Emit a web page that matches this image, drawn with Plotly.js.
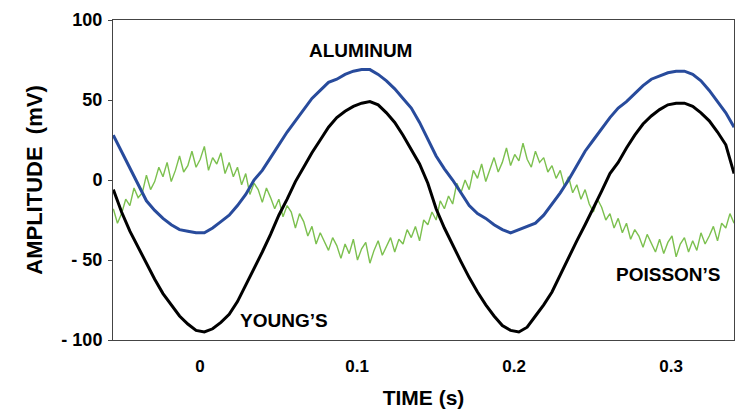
<!DOCTYPE html>
<html>
<head>
<meta charset="utf-8">
<script src="https://cdn.plot.ly/plotly-3.0.1.min.js"></script>
<style>html,body{margin:0;padding:0;background:#fff;}#chart{width:749px;height:412px;}</style>
</head>
<body>
<div id="chart"></div>
<script>
// Time axis: samples start at T0 (s) with a fixed sampling step per series
const T0 = -0.0552;
const STEP_MAIN = 0.00527;     // Young's and Aluminum samples
const STEP_POISSON = 0.002635; // Poisson's samples

// Young's (black), mV
const youngs = [-6,-20,-32,-42,-53,-62,-71,-78,-85,-90,-94,-95,-93,-89,-84,-76,-66,-55,-45,-34,
  -22,-12,-1,8,17,25,33,39,43,46,48,49,47,42,36,28,19,10,-2,-18,
  -30,-41,-51,-61,-70,-78,-85,-91,-94,-95,-92,-85,-78,-70,-59,-49,-38,-28,-18,-7,
  4,11,20,28,35,40,44,47,48,48,46,42,37,30,22,4];

// Aluminum (blue), mV
const aluminum = [28,18,8,-3,-13,-19,-24,-28,-31,-32,-33,-33,-30,-26,-22,-16,-9,0,6,14,
  22,30,37,44,51,56,61,63,66,68,69,69,66,62,57,51,45,36,25,15,
  7,0,-8,-16,-21,-24,-28,-31,-33,-31,-29,-27,-22,-15,-8,0,9,18,25,32,
  39,45,49,54,59,63,65,67,68,68,66,62,56,49,42,33];

// Poisson's (green), mV
const poissons = [-18,-27,-21,-12, -16,-5,-11,-8, 3,-6,-1,8, 2,11,-1,6, 15,5,9,18,
  8,13,21,6, 14,10,17,4, 11,2,8,-3, 4,-9,-2,-6, -14,-5,-11,-18,
  -12,-23,-16,-20, -30,-21,-26,-35, -29,-40,-33,-38, -44,-36,-41,-49, -40,-46,-37,-50,
  -43,-39,-52,-44, -38,-47,-42,-36, -45,-37,-40,-31, -36,-29,-38,-25, -28,-20,-25,-13,
  -18,-10,-15,-2, -8,0,-6,6, 1,10,-1,7, 14,5,11,20, 9,16,12,23,
  13,8,18,11, 14,5,9,1, 6,-4,2,-8, -3,-12,-6,-15, -20,-12,-17,-25,
  -21,-30,-24,-33, -27,-37,-31,-35, -42,-34,-40,-45, -37,-46,-39,-35, -48,-40,-36,-45,
  -38,-44,-33,-40, -35,-29,-38,-27, -30,-21,-27];

const xTickVals = [0, 0.1, 0.2, 0.3];
const xTickText = ['0', '0.1', '0.2', '0.3'];
const yTickVals = [-100, -50, 0, 50, 100];
const yTickText = ['- 100', '- 50', '0', '50', '100'];

// Series labels: [text, time, amplitude]
const labels = [['ALUMINUM', 0.1019, 81], ["YOUNG\u2019S", 0.0535, -88], ["POISSON\u2019S", 0.2985, -59]];

const FONT = 'Liberation Sans, Arial, sans-serif';

const traces = [
  {y: poissons, x0: T0, dx: STEP_POISSON, type: 'scatter', mode: 'lines', name: "Poisson's",
   line: {color: '#7cc04f', width: 1.4}},
  {y: aluminum, x0: T0, dx: STEP_MAIN, type: 'scatter', mode: 'lines', name: 'Aluminum',
   line: {color: '#284b9c', width: 3}},
  {y: youngs, x0: T0, dx: STEP_MAIN, type: 'scatter', mode: 'lines', name: "Young's",
   line: {color: '#000000', width: 3}}
];

const layout = {
  width: 749, height: 412,
  margin: {l: 113, r: 15, t: 20, b: 72},
  paper_bgcolor: '#ffffff', plot_bgcolor: '#ffffff',
  showlegend: false,
  font: {family: FONT, color: '#000'},
  xaxis: {
    range: [-0.0554, 0.340],
    tickvals: xTickVals, ticktext: xTickText,
    ticks: '', showgrid: false, zeroline: false,
    showline: true, mirror: true, linecolor: '#444', linewidth: 1,
    tickfont: {family: FONT, size: 17, color: '#000', weight: 'bold'},
    ticklabelstandoff: 11,
    title: {text: '<b>TIME (s)</b>', font: {family: FONT, size: 21, color: '#000'}, standoff: 14}
  },
  yaxis: {
    range: [-100, 100],
    tickvals: yTickVals, ticktext: yTickText,
    ticks: 'outside', ticklen: 4, tickcolor: '#444',
    showgrid: false, zeroline: false,
    showline: true, mirror: true, linecolor: '#444', linewidth: 1,
    tickfont: {family: FONT, size: 18, color: '#000', weight: 'bold'},
    ticklabelstandoff: 2,
    title: {text: '<b>AMPLITUDE  (mV)</b>', font: {family: FONT, size: 22, color: '#000'}, standoff: 12}
  },
  annotations: labels.map(l => ({
    x: l[1], y: l[2], xref: 'x', yref: 'y', text: '<b>' + l[0] + '</b>', showarrow: false,
    font: {family: FONT, size: 19, color: '#000'}, bgcolor: 'rgba(255,255,255,0)'
  }))
};

Plotly.newPlot('chart', traces, layout, {displayModeBar: false, staticPlot: true});
</script>
</body>
</html>
